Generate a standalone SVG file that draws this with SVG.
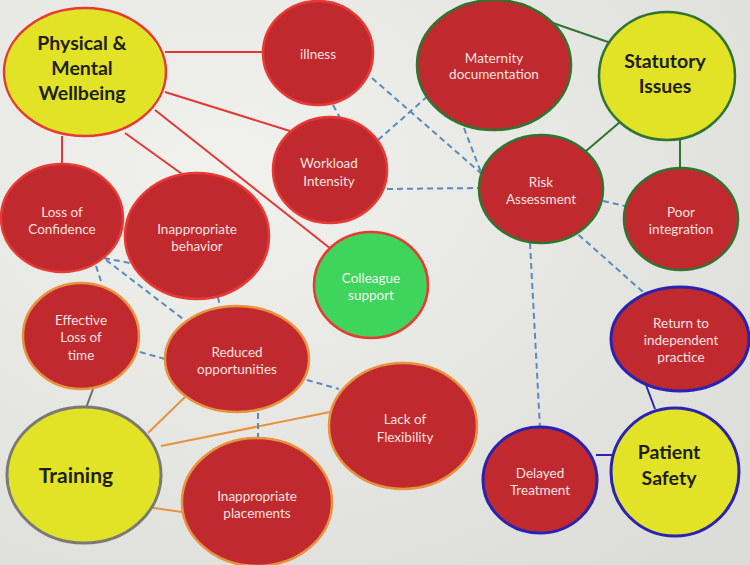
<svg xmlns="http://www.w3.org/2000/svg" width="750" height="565" viewBox="0 0 750 565">
<defs>
<radialGradient id="bg" cx="0.3" cy="0.3" r="0.9">
<stop offset="0" stop-color="#f1f1ee"/>
<stop offset="1" stop-color="#dcdcd8"/>
</radialGradient>
<style>
.red{fill:#c02a2e}
.yel{fill:#e2e326}
.grn{fill:#3fd45c}
.sr{stroke:#e83a34;stroke-width:2.5}
.so{stroke:#e8923e;stroke-width:2.5}
.sg{stroke:#2f7430;stroke-width:2.5}
.sb{stroke:#2a22b0;stroke-width:3}
.sy{stroke:#7a7a72;stroke-width:3}
.t{font-family:Lato,"Open Sans",sans-serif;font-size:13.5px;fill:#f4e2e0;text-anchor:middle}
.tg{font-family:Lato,"Open Sans",sans-serif;font-size:13.5px;fill:#f1f6ef;text-anchor:middle}
.h{font-family:Lato,"Open Sans",sans-serif;font-size:19.5px;font-weight:bold;fill:#1e1e14;text-anchor:middle}
.lr{stroke:#e03a36;stroke-width:2;fill:none}
.lg{stroke:#2f7430;stroke-width:2;fill:none}
.lb{stroke:#2a22b0;stroke-width:2;fill:none}
.lo{stroke:#e8923e;stroke-width:2;fill:none}
.lk{stroke:#6e6e68;stroke-width:2;fill:none}
.ld{stroke:#5b8bbd;stroke-width:2;stroke-dasharray:6,4;fill:none}
</style>
</defs>
<rect width="750" height="565" fill="url(#bg)"/>
<g id="connectors">
<line class="lr" x1="165" y1="52" x2="264" y2="52"/>
<line class="lr" x1="165" y1="92" x2="290" y2="131"/>
<line class="lr" x1="62" y1="136" x2="62" y2="166"/>
<line class="lr" x1="125" y1="133" x2="182" y2="174"/>
<line class="lr" x1="155" y1="110" x2="331" y2="249"/>
<line class="lg" x1="550" y1="22" x2="608" y2="42"/>
<line class="lg" x1="586" y1="151" x2="620" y2="122"/>
<line class="lg" x1="680" y1="139" x2="680" y2="168"/>
<line class="lb" x1="646" y1="385" x2="655" y2="409"/>
<line class="lb" x1="596" y1="455" x2="612" y2="455"/>
<line class="lk" x1="93" y1="389" x2="86" y2="408"/>
<line class="lo" x1="148" y1="433" x2="185" y2="397"/>
<line class="lo" x1="161" y1="446" x2="330" y2="412"/>
<line class="lo" x1="147" y1="507" x2="182" y2="512"/>
<line class="ld" x1="372" y1="78" x2="483" y2="175"/>
<line class="ld" x1="333" y1="105" x2="340" y2="118"/>
<line class="ld" x1="378" y1="140" x2="429" y2="95"/>
<line class="ld" x1="387" y1="189" x2="480" y2="188"/>
<line class="ld" x1="464" y1="128" x2="482" y2="175"/>
<line class="ld" x1="603" y1="201" x2="625" y2="206"/>
<line class="ld" x1="571" y1="228" x2="643" y2="292"/>
<line class="ld" x1="530" y1="243" x2="540" y2="428"/>
<line class="ld" x1="104" y1="258" x2="140" y2="265"/>
<line class="ld" x1="106" y1="260" x2="187" y2="322"/>
<line class="ld" x1="96" y1="266" x2="102" y2="284"/>
<line class="ld" x1="218" y1="297" x2="220" y2="307"/>
<line class="ld" x1="140" y1="352" x2="165" y2="359"/>
<line class="ld" x1="307" y1="380" x2="339" y2="389"/>
<line class="ld" x1="258" y1="413" x2="258" y2="440"/>
</g>
<g id="physical-mental-wellbeing">
<ellipse class="yel sr" cx="85" cy="72" rx="81" ry="64"/>
<text class="h" x="82" y="50">Physical &amp;</text>
<text class="h" x="82" y="75">Mental</text>
<text class="h" x="82" y="100">Wellbeing</text>
</g>
<g id="illness">
<ellipse class="red sr" cx="318" cy="53" rx="55" ry="52"/>
<text class="t" x="318" y="59">illness</text>
</g>
<g id="workload-intensity">
<ellipse class="red sr" cx="330" cy="170" rx="57" ry="53"/>
<text class="t" x="329" y="168">Workload</text>
<text class="t" x="329" y="186">Intensity</text>
</g>
<g id="loss-of-confidence">
<ellipse class="red sr" cx="62" cy="218" rx="61" ry="54"/>
<text class="t" x="62" y="217">Loss of</text>
<text class="t" x="62" y="234">Confidence</text>
</g>
<g id="inappropriate-behavior">
<ellipse class="red sr" cx="197" cy="236" rx="72" ry="63"/>
<text class="t" x="197" y="234">Inappropriate</text>
<text class="t" x="197" y="251">behavior</text>
</g>
<g id="colleague-support">
<ellipse class="grn sr" cx="371" cy="285" rx="57" ry="53"/>
<text class="tg" x="371" y="283">Colleague</text>
<text class="tg" x="371" y="300">support</text>
</g>
<g id="maternity-documentation">
<ellipse class="red sg" cx="494" cy="65" rx="77" ry="65"/>
<text class="t" x="494" y="63">Maternity</text>
<text class="t" x="494" y="79">documentation</text>
</g>
<g id="statutory-issues">
<ellipse class="yel sg" cx="667" cy="76" rx="68" ry="64"/>
<text class="h" x="665" y="68">Statutory</text>
<text class="h" x="665" y="93">Issues</text>
</g>
<g id="risk-assessment">
<ellipse class="red sg" cx="541" cy="189" rx="62" ry="54"/>
<text class="t" x="541" y="187">Risk</text>
<text class="t" x="541" y="204">Assessment</text>
</g>
<g id="poor-integration">
<ellipse class="red sg" cx="681" cy="219" rx="57" ry="51"/>
<text class="t" x="681" y="217">Poor</text>
<text class="t" x="681" y="234">integration</text>
</g>
<g id="return-to-independent-practice">
<ellipse class="red sb" cx="680" cy="339" rx="69" ry="52"/>
<text class="t" x="681" y="328">Return to</text>
<text class="t" x="681" y="345">independent</text>
<text class="t" x="681" y="362">practice</text>
</g>
<g id="patient-safety">
<ellipse class="yel sb" cx="675" cy="472" rx="64" ry="64"/>
<text class="h" x="669" y="459">Patient</text>
<text class="h" x="669" y="485">Safety</text>
</g>
<g id="delayed-treatment">
<ellipse class="red sb" cx="540" cy="480" rx="57" ry="53"/>
<text class="t" x="540" y="478">Delayed</text>
<text class="t" x="540" y="495">Treatment</text>
</g>
<g id="lack-of-flexibility">
<ellipse class="red so" cx="403" cy="426" rx="74" ry="63"/>
<text class="t" x="405" y="424">Lack of</text>
<text class="t" x="405" y="442">Flexibility</text>
</g>
<g id="effective-loss-of-time">
<ellipse class="red so" cx="81" cy="336" rx="58" ry="53"/>
<text class="t" x="81" y="325">Effective</text>
<text class="t" x="81" y="342">Loss of</text>
<text class="t" x="81" y="360">time</text>
</g>
<g id="reduced-opportunities">
<ellipse class="red so" cx="237" cy="359" rx="72" ry="53"/>
<text class="t" x="237" y="357">Reduced</text>
<text class="t" x="237" y="374">opportunities</text>
</g>
<g id="training">
<ellipse class="yel sy" cx="84" cy="475" rx="77" ry="68"/>
<text class="h" x="76" y="483" style="font-size:21px">Training</text>
</g>
<g id="inappropriate-placements">
<ellipse class="red so" cx="257" cy="502" rx="75" ry="64"/>
<text class="t" x="257" y="501">Inappropriate</text>
<text class="t" x="257" y="518">placements</text>
</g>
</svg>
